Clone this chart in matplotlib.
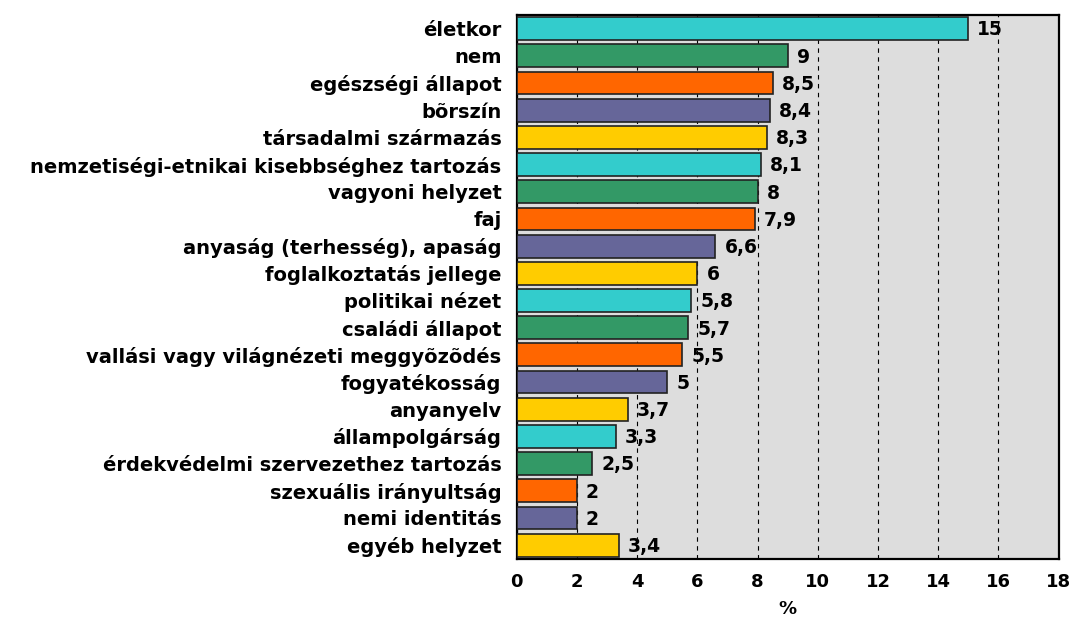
import matplotlib
matplotlib.use('Agg')
import matplotlib.pyplot as plt
import numpy as np

# Categories and values
categories = ['életkor', 'nem', 'egészségi állapot', 'bõrszín', 'társadalmi származás',
              'nemzetiségi-etnikai kisebbséghez tartozás', 'vagyoni helyzet', 'faj',
              'anyaság (terhesség), apaság', 'foglalkoztatás jellege', 'politikai nézet',
              'családi állapot', 'vallási vagy világnézeti meggyõzõdés', 'fogyatékosság',
              'anyanyelv', 'állampolgárság', 'érdekvédelmi szervezethez tartozás',
              'szexuális irányultság', 'nemi identitás', 'egyéb helyzet']
values = [15, 9, 8.5, 8.4, 8.3, 8.1, 8, 7.9, 6.6, 6, 5.8, 5.7, 5.5, 5, 3.7, 3.3, 2.5, 2, 2, 3.4]
palette = ['#33CCCC', '#339966', '#FF6600', '#666699', '#FFCC00']
x_ticks = [0, 2, 4, 6, 8, 10, 12, 14, 16, 18]

plt.rcParams['font.family'] = ['DejaVu Sans']
plt.rcParams['font.weight'] = 'bold'

fig = plt.figure(figsize=(10.72, 6.21), dpi=100)
ax = fig.add_axes([0.482, 0.1002, 0.5056, 0.8756])
ax.set_facecolor('#DDDDDD')

y_pos = np.arange(len(categories))
bar_colors = [palette[i % len(palette)] for i in range(len(categories))]
ax.barh(y_pos, values, height=0.84, color=bar_colors, edgecolor='#222222', linewidth=1.2, zorder=3)

# value labels with a decimal comma, as in the original
for y, v in zip(y_pos, values):
    label = ('%g' % v).replace('.', ',')
    ax.text(v + 0.3, y + 0.05, label, va='center', ha='left', fontsize=13.5, fontweight='bold', zorder=4)

ax.set_xlim(0, 18)
ax.set_ylim(len(categories) - 0.5, -0.5)
ax.set_xticks(x_ticks)
ax.set_xticklabels([str(t) for t in x_ticks], fontsize=13, fontweight='bold')
ax.set_yticks(y_pos)
ax.set_yticklabels(categories, fontsize=14, fontweight='bold')
ax.tick_params(axis='y', length=0, pad=11)
ax.tick_params(axis='x', length=0, pad=10)
ax.xaxis.grid(True, linestyle=(0, (4, 4)), color='black', linewidth=0.8, zorder=0)
ax.set_axisbelow(True)
for spine in ax.spines.values():
    spine.set_linewidth(1.6)
ax.set_xlabel('%', fontsize=13, fontweight='bold', labelpad=7)

plt.savefig('out.png', dpi=100)
